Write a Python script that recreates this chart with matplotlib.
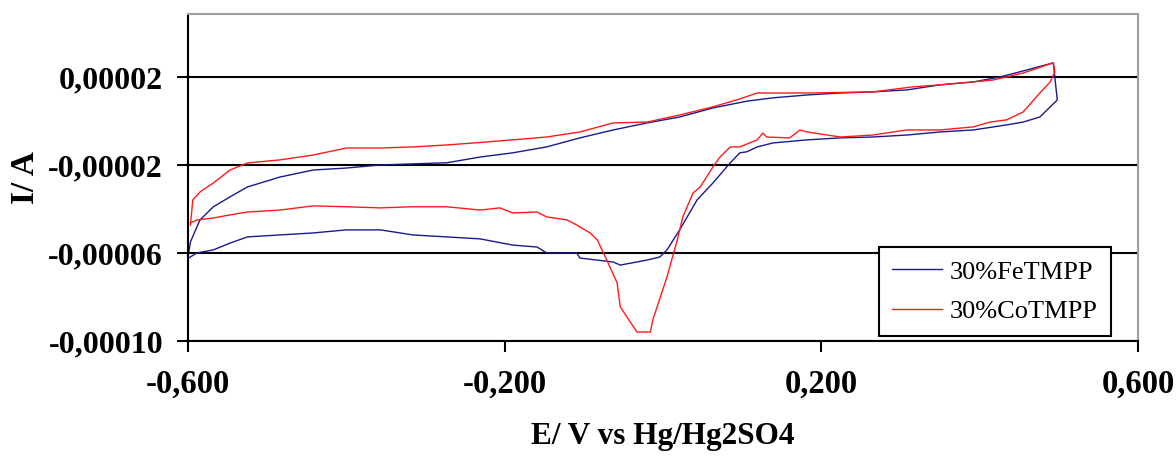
"""Cyclic voltammetry of FeTMPP / CoTMPP catalysts"""

import matplotlib
matplotlib.use('Agg')
import matplotlib.pyplot as plt
from matplotlib.ticker import FixedLocator

# potential (V vs Hg/Hg2SO4) and current (uA), anodic then cathodic sweep
fe_e = [-0.600, -0.597, -0.585, -0.568, -0.547, -0.525, -0.484, -0.442, -0.400,
        -0.357, -0.273, -0.231, -0.190, -0.147, -0.105, -0.063, -0.020, 0.021,
        0.063, 0.106, 0.139, 0.182, 0.224, 0.265, 0.308, 0.350, 0.392, 0.426,
        0.460, 0.493,
        0.498, 0.476, 0.455, 0.434, 0.392, 0.350, 0.308, 0.265, 0.224, 0.182,
        0.139, 0.119, 0.106, 0.097, 0.085, 0.063, 0.043, 0.021, 0.005, -0.004,
        -0.020, -0.054, -0.063, -0.105, -0.109, -0.147, -0.159, -0.190, -0.231,
        -0.273, -0.316, -0.357, -0.400, -0.442, -0.484, -0.525, -0.547, -0.568,
        -0.589, -0.597, -0.600]
fe_i = [-61.8, -55.0, -45.0, -39.0, -34.5, -30.0, -25.5, -22.3, -21.4,
        -20.0, -19.0, -16.4, -14.5, -11.8, -7.7, -4.1, -0.9, 1.8,
        5.9, 9.0, 10.5, 11.8, 12.7, 13.2, 14.1, 16.4, 17.7, 20.0,
        23.2, 26.4,
        9.5, 1.8, -0.5, -1.8, -4.1, -5.0, -6.4, -7.3, -7.7, -8.6,
        -10.0, -11.8, -14.0, -14.5, -19.0, -28.2, -35.9, -49.5, -58.6, -61.8,
        -63.2, -65.5, -64.1, -62.3, -60.0, -60.0, -57.3, -56.4, -53.6,
        -52.7, -51.8, -49.5, -49.5, -50.9, -51.8, -52.7, -55.5, -58.6,
        -60.0, -61.8, -62.5]

co_e = [-0.597, -0.594, -0.585, -0.568, -0.547, -0.525, -0.484, -0.442, -0.400,
        -0.357, -0.316, -0.273, -0.231, -0.190, -0.147, -0.105, -0.063, -0.020,
        0.021, 0.063, 0.097, 0.119, 0.182, 0.265, 0.316, 0.350, 0.417, 0.455,
        0.493,
        0.495, 0.489, 0.476, 0.455, 0.434, 0.413, 0.392, 0.350, 0.308, 0.265,
        0.224, 0.182, 0.173, 0.160, 0.131, 0.126, 0.119, 0.097, 0.085, 0.072,
        0.063, 0.047, 0.038, 0.025, 0.018, 0.005, -0.013, -0.016, -0.033,
        -0.054, -0.058, -0.071, -0.083, -0.092, -0.109, -0.121, -0.147, -0.159,
        -0.190, -0.206, -0.231, -0.273, -0.316, -0.357, -0.400, -0.442, -0.484,
        -0.525, -0.547, -0.568, -0.589, -0.597]
co_i = [-47.3, -35.9, -32.3, -28.2, -22.3, -19.1, -17.7, -15.5, -12.3,
        -12.3, -11.8, -10.9, -9.8, -8.6, -7.3, -5.0, -0.9, -0.5,
        2.7, 6.4, 10.0, 12.7, 12.7, 13.2, 15.5, 16.4, 18.6, 21.8,
        26.4,
        22.3, 17.7, 12.7, 4.1, 0.5, -0.5, -2.7, -4.1, -4.1, -6.4,
        -7.3, -5.0, -4.1, -7.7, -7.3, -5.5, -8.6, -11.8, -11.8, -16.4,
        -20.9, -30.0, -32.7, -43.6, -54.1, -70.9, -90.5, -95.9, -95.9,
        -84.5, -73.6, -63.2, -54.1, -50.9, -47.3, -45.0, -43.6, -41.4,
        -41.8, -39.5, -40.5, -39.0, -39.0, -39.5, -39.0, -38.6, -40.5,
        -41.4, -42.7, -44.1, -45.0, -46.4]

series = [
    ('30%FeTMPP', fe_e, fe_i, '#1a1a8c'),
    ('30%CoTMPP', co_e, co_i, '#ff1a1a'),
]

x_ticks = [-0.6, -0.2, 0.2, 0.6]
x_tick_labels = ['-0,600', '-0,200', '0,200', '0,600']
y_ticks = [-0.0001, -0.00006, -0.00002, 0.00002]
y_tick_labels = ['-0,00010', '-0,00006', '-0,00002', '0,00002']

plt.rcParams['font.family'] = ['Liberation Serif', 'DejaVu Serif']

fig = plt.figure(figsize=(11.76, 4.57), dpi=100)
ax = fig.add_axes([0.1599, 0.2538, 0.8078, 0.7156])

for name, e, i, color in series:
    ax.plot(e, [v * 1e-6 for v in i], color=color, linewidth=1.0, label=name)

ax.set_xlim(-0.6, 0.6)
ax.set_ylim(-0.0001, 0.0000486)

ax.xaxis.set_major_locator(FixedLocator(x_ticks))
ax.set_xticklabels(x_tick_labels, fontsize=23.5, fontweight='bold')
ax.yaxis.set_major_locator(FixedLocator(y_ticks))
ax.set_yticklabels(y_tick_labels, fontsize=23, fontweight='bold')
ax.tick_params(axis='both', direction='out', length=8, width=1.5, color='black')
ax.tick_params(axis='x', pad=12)
ax.tick_params(axis='y', pad=10)

ax.grid(axis='y', color='black', linewidth=1.5)
ax.set_axisbelow(True)

for side in ('left', 'bottom'):
    ax.spines[side].set_color('black')
    ax.spines[side].set_linewidth(1.5)
for side in ('top', 'right'):
    ax.spines[side].set_color('#a0a0a0')
    ax.spines[side].set_linewidth(1.5)

ax.set_xlabel('E/ V vs Hg/Hg2SO4', fontsize=22.5, fontweight='bold', labelpad=16)
ax.set_ylabel('I/ A', fontsize=24, fontweight='bold', labelpad=5)

leg = ax.legend(loc='lower right', bbox_to_anchor=(0.9716, 0.0153),
                borderaxespad=0, fontsize=19, fancybox=False,
                edgecolor='black', framealpha=1, handlelength=1.9,
                handletextpad=0.3, borderpad=0.5, labelspacing=0.6)
leg.get_frame().set_linewidth(1.5)

fig.savefig('out.png', dpi=100)
plt.close(fig)
